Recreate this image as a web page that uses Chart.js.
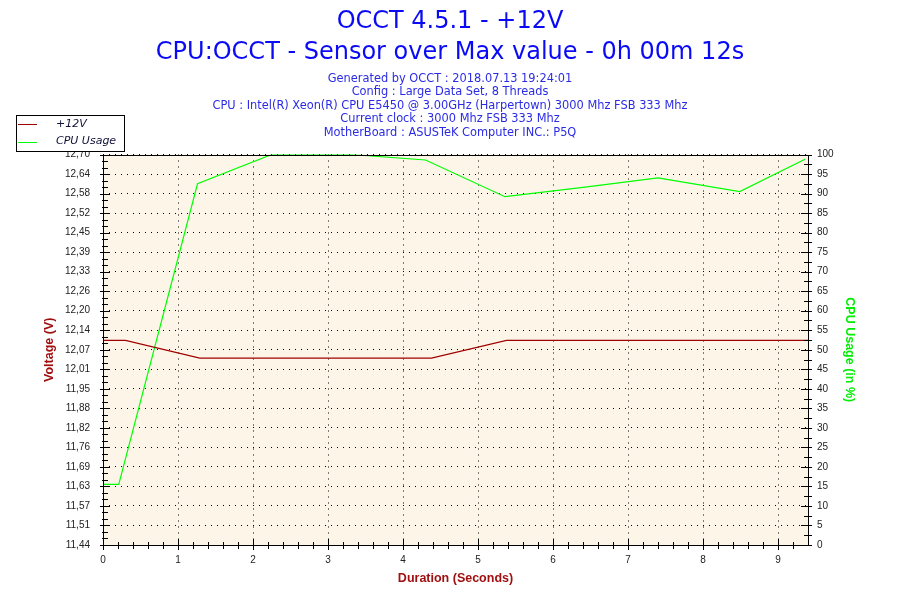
<!DOCTYPE html>
<html>
<head>
<meta charset="utf-8">
<script src="https://cdn.jsdelivr.net/npm/chart.js@4.4.1/dist/chart.umd.min.js"></script>
<style>
  body { margin: 0; background: #ffffff; }
</style>
</head>
<body>
<canvas id="occtChart" width="900" height="600"></canvas>
<script>
// values
const voltSeconds = [0, 0.30, 1.29, 4.38, 5.38, 9.40];
const voltage = [12.10, 12.10, 12.043, 12.043, 12.10, 12.10];
const cpuSeconds = [0, 0.21, 1.26, 2.25, 3.30, 4.30, 5.36, 6.40, 7.40, 8.49, 9.36];
const cpuUsage = [15.5, 15.5, 92.5, 100, 100, 98.6, 89.2, 91.6, 94.0, 90.5, 98.8];

const secondTicks = [0, 1, 2, 3, 4, 5, 6, 7, 8, 9];
const voltTicks = ['11,44', '11,51', '11,57', '11,63', '11,69', '11,76', '11,82', '11,88', '11,95', '12,01',
  '12,07', '12,14', '12,20', '12,26', '12,33', '12,39', '12,45', '12,52', '12,58', '12,64', '12,70'];
const cpuTicks = [0, 5, 10, 15, 20, 25, 30, 35, 40, 45, 50, 55, 60, 65, 70, 75, 80, 85, 90, 95, 100];

const voltMin = 11.44, voltMax = 12.70;
const secMax = 9.4;

const titleLines = ['OCCT 4.5.1 - +12V', 'CPU:OCCT - Sensor over Max value - 0h 00m 12s'];
const infoLines = [
  'Generated by OCCT : 2018.07.13 19:24:01',
  'Config : Large Data Set, 8 Threads',
  'CPU : Intel(R) Xeon(R) CPU E5450 @ 3.00GHz (Harpertown) 3000 Mhz FSB 333 Mhz',
  'Current clock : 3000 Mhz FSB 333 Mhz',
  'MotherBoard : ASUSTeK Computer INC.: P5Q'
];

function voltAt(i) {
  return voltMin + i * (voltMax - voltMin) / (voltTicks.length - 1);
}

Chart.defaults.font.family = 'DejaVu Sans';

const plotBackground = {
  id: 'plotBackground',
  beforeDraw(chart) {
    const {ctx, chartArea: a} = chart;
    ctx.save();
    ctx.fillStyle = '#fdf6e8';
    ctx.fillRect(a.left, a.top, a.right - a.left, a.bottom - a.top);
    ctx.restore();
  }
};

// black frame plus the tick marks that cross the axes
const frameTicks = {
  id: 'frameTicks',
  afterDatasetsDraw(chart) {
    const {ctx, chartArea: a, scales} = chart;
    ctx.save();
    ctx.strokeStyle = '#000';
    ctx.lineWidth = 1;
    ctx.strokeRect(Math.round(a.left) + 0.5, Math.round(a.top) + 0.5,
      Math.round(a.right - a.left), Math.round(a.bottom - a.top));

    function hLine(y, x0, x1) {
      y = Math.round(y) + 0.5;
      ctx.beginPath(); ctx.moveTo(x0, y); ctx.lineTo(x1, y); ctx.stroke();
    }
    function vLine(x, y0, y1) {
      x = Math.round(x) + 0.5;
      ctx.beginPath(); ctx.moveTo(x, y0); ctx.lineTo(x, y1); ctx.stroke();
    }

    // left axis
    const L = Math.round(a.left);
    const step = (voltMax - voltMin) / (voltTicks.length - 1);
    for (let i = 0; i < voltTicks.length; i++) {
      hLine(scales.y.getPixelForValue(voltAt(i)), L - 3, L + 7);
      if (i < voltTicks.length - 1) {
        hLine(scales.y.getPixelForValue(voltAt(i) + step / 3), L - 1, L + 5);
        hLine(scales.y.getPixelForValue(voltAt(i) + 2 * step / 3), L - 1, L + 5);
      }
    }
    // right axis
    const R = Math.round(a.right);
    cpuTicks.forEach((v, i) => {
      hLine(scales.y2.getPixelForValue(v), R - 7, R + 4);
      if (i < cpuTicks.length - 1) {
        hLine(scales.y2.getPixelForValue(v + 2.5), R - 4, R + 4);
      }
    });
    // bottom axis
    const B = Math.round(a.bottom);
    secondTicks.forEach(s => {
      vLine(scales.x.getPixelForValue(s), B - 6, B + 5);
      for (let k = 1; k < 5; k++) {
        const m = s + k * 0.2;
        if (m < secMax) vLine(scales.x.getPixelForValue(m), B - 3, B + 4);
      }
    });
    ctx.restore();
  }
};

// boxed legend in the top left corner
const cornerLegend = {
  id: 'cornerLegend',
  afterDraw(chart) {
    const ctx = chart.ctx;
    ctx.save();
    ctx.fillStyle = '#fff';
    ctx.fillRect(16, 115, 108, 36);
    ctx.strokeStyle = '#000';
    ctx.lineWidth = 1;
    ctx.strokeRect(16.5, 115.5, 108, 36);
    ctx.font = 'italic 11px "DejaVu Sans"';
    ctx.textBaseline = 'middle';
    chart.data.datasets.forEach((ds, i) => {
      const y = 124 + i * 17.5;
      ctx.strokeStyle = ds.borderColor;
      ctx.beginPath();
      ctx.moveTo(18, Math.round(y) + 0.5);
      ctx.lineTo(37, Math.round(y) + 0.5);
      ctx.stroke();
      ctx.fillStyle = '#10103a';
      ctx.fillText(ds.label, 56, y);
    });
    ctx.restore();
  }
};

new Chart(document.getElementById('occtChart'), {
  type: 'line',
  data: {
    datasets: [{
      label: '+12V',
      data: voltSeconds.map((s, i) => ({x: s, y: voltage[i]})),
      borderColor: '#a00000',
      borderWidth: 1.2,
      pointRadius: 0,
      yAxisID: 'y'
    }, {
      label: 'CPU Usage',
      data: cpuSeconds.map((s, i) => ({x: s, y: cpuUsage[i]})),
      borderColor: '#00ff00',
      borderWidth: 1.2,
      pointRadius: 0,
      yAxisID: 'y2'
    }]
  },
  options: {
    responsive: false,
    devicePixelRatio: 1,
    animation: false,
    layout: { padding: 0 },
    plugins: {
      legend: { display: false },
      tooltip: { enabled: false },
      title: {
        display: true,
        text: titleLines,
        color: '#0a0af5',
        font: { size: 24, weight: 'normal', lineHeight: 1.27 },
        padding: { top: 7, bottom: 0 }
      },
      subtitle: {
        display: true,
        text: infoLines,
        color: '#2b2be6',
        font: { size: 11.4, weight: 'normal', lineHeight: 1.185 },
        padding: { top: 4, bottom: 15 }
      }
    },
    scales: {
      x: {
        type: 'linear',
        min: 0,
        max: secMax,
        afterBuildTicks: s => { s.ticks = secondTicks.map(v => ({value: v})); },
        afterFit: s => { s.height = 55; },
        ticks: { color: '#222', font: { family: 'Liberation Sans', size: 10 }, padding: 9, maxRotation: 0 },
        grid: { color: '#000', lineWidth: 1, drawTicks: false },
        border: { display: false, dash: [1, 5] },
        title: {
          display: true,
          text: 'Duration (Seconds)',
          color: '#a01010',
          font: { family: 'Liberation Sans', size: 12.5, weight: 'bold' },
          padding: { top: 0, bottom: 13.5 }
        }
      },
      y: {
        type: 'linear',
        position: 'left',
        min: voltMin,
        max: voltMax,
        afterBuildTicks: s => { s.ticks = voltTicks.map((t, i) => ({value: voltAt(i)})); },
        afterFit: s => { s.width = 103; },
        ticks: {
          color: '#222',
          font: { family: 'Liberation Sans', size: 10 },
          padding: 13,
          callback: (v, i) => voltTicks[i]
        },
        grid: { color: '#000', lineWidth: 1, drawTicks: false },
        border: { display: false, dash: [1, 5] },
        title: {
          display: true,
          text: 'Voltage (V)',
          color: '#a01010',
          font: { family: 'Liberation Sans', size: 12.5, weight: 'bold' },
          padding: { top: 42.5, bottom: 0 }
        }
      },
      y2: {
        type: 'linear',
        position: 'right',
        min: 0,
        max: 100,
        afterBuildTicks: s => { s.ticks = cpuTicks.map(v => ({value: v})); },
        afterFit: s => { s.width = 92; },
        ticks: { color: '#222', font: { family: 'Liberation Sans', size: 10 }, padding: 9 },
        grid: { display: false, drawTicks: false },
        border: { display: false },
        title: {
          display: true,
          text: 'CPU Usage (in %)',
          color: '#00ee00',
          font: { family: 'Liberation Sans', size: 12.5, weight: 'bold' },
          padding: { top: 43.5, bottom: 0 }
        }
      }
    }
  },
  plugins: [plotBackground, frameTicks, cornerLegend]
});
</script>
</body>
</html>
